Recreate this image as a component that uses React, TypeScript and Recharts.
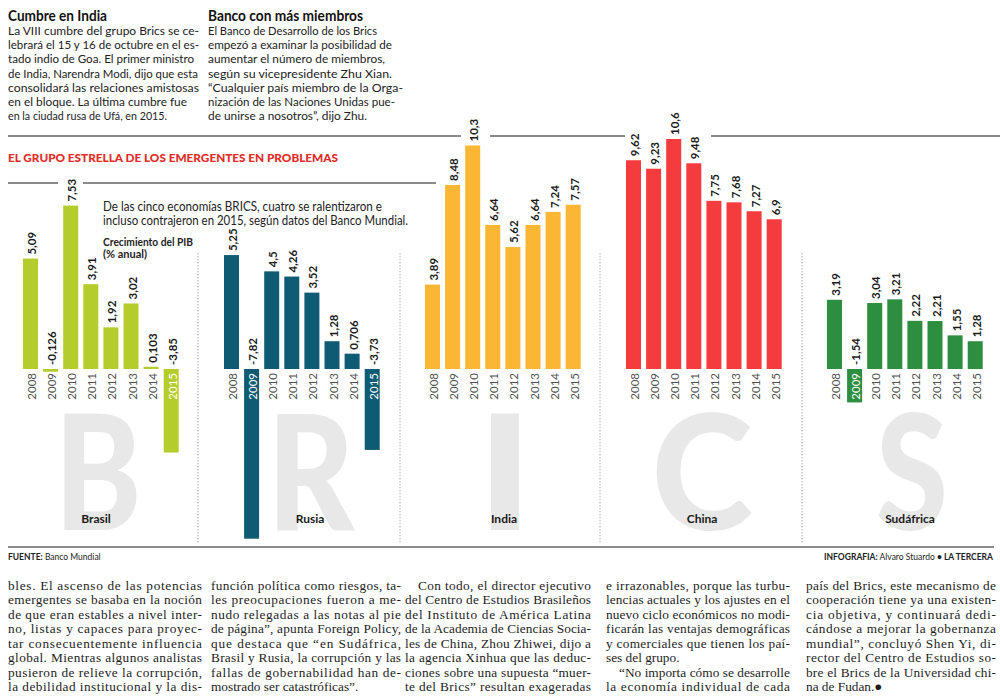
import React from 'react';
import { BarChart, Bar, XAxis, YAxis } from 'recharts';

// ---------- DATA ----------
const years = ['2008', '2009', '2010', '2011', '2012', '2013', '2014', '2015'];
const countries = ['Brasil', 'Rusia', 'India', 'China', 'Sudáfrica'];
const bigLetters = ['B', 'R', 'I', 'C', 'S'];
const brasil = [5.09, -0.126, 7.53, 3.91, 1.92, 3.02, 0.103, -3.85];
const rusia = [5.25, -7.82, 4.5, 4.26, 3.52, 1.28, 0.706, -3.73];
const india = [3.89, 8.48, 10.3, 6.64, 5.62, 6.64, 7.24, 7.57];
const china = [9.62, 9.23, 10.6, 9.48, 7.75, 7.68, 7.27, 6.9];
const sudafrica = [3.19, -1.54, 3.04, 3.21, 2.22, 2.21, 1.55, 1.28];
const series = [brasil, rusia, india, china, sudafrica];

const colors = ['#b5cd2c', '#0f5b73', '#fbb733', '#f43b3d', '#2c8e3e'];

const headerLeftTitle = 'Cumbre en India';
const headerLeft = [
  'La VIII cumbre del grupo Brics se ce-',
  'lebrará el 15 y 16 de octubre en el es-',
  'tado indio de Goa. El primer ministro',
  'de India, Narendra Modi, dijo que esta',
  'consolidará las relaciones amistosas',
  'en el bloque. La última cumbre fue',
  'en la ciudad rusa de Ufá, en 2015.',
];
const headerLeftW = [191, 191, 186, 190, 191, 179, 159];
const headerRightTitle = 'Banco con más miembros';
const headerRight = [
  'El Banco de Desarrollo de los Brics',
  'empezó a examinar la posibilidad de',
  'aumentar el número de miembros,',
  'según su vicepresidente Zhu Xian.',
  '\u201cCualquier país miembro de la Orga-',
  'nización de las Naciones Unidas pue-',
  'de unirse a nosotros\u201d, dijo Zhu.',
];
const headerRightW = [169, 184, 177, 184, 195, 187, 159];

const chartTitle = 'EL GRUPO ESTRELLA DE LOS EMERGENTES EN PROBLEMAS';
const descLines = [
  'De las cinco economías BRICS, cuatro se ralentizaron e',
  'incluso contrajeron en 2015, según datos del Banco Mundial.',
];
const unitLines = ['Crecimiento del PIB', '(% anual)'];

// body columns: [text, mode] mode: 'j' justified, 'n' natural, 'i' indented justified
const col1: [string, string][] = [
  ['bles. El ascenso de las potencias', 'j'],
  ['emergentes se basaba en la noción', 'j'],
  ['de que eran estables a nivel inter-', 'j'],
  ['no, listas y capaces para proyec-', 'j'],
  ['tar consecuentemente influencia', 'j'],
  ['global. Mientras algunos analistas', 'j'],
  ['pusieron de relieve la corrupción,', 'j'],
  ['la debilidad institucional y la dis-', 'j'],
];
const col2: [string, string][] = [
  ['función política como riesgos, ta-', 'j'],
  ['les preocupaciones fueron a me-', 'j'],
  ['nudo relegadas a las notas al pie', 'j'],
  ['de página\u201d, apunta Foreign Policy,', 'j'],
  ['que destaca que \u201cen Sudáfrica,', 'j'],
  ['Brasil y Rusia, la corrupción y las', 'j'],
  ['fallas de gobernabilidad han de-', 'j'],
  ['mostrado ser catastróficas\u201d.', 'n'],
];
const col3: [string, string][] = [
  ['Con todo, el director ejecutivo', 'i'],
  ['del Centro de Estudios Brasileños', 'j'],
  ['del Instituto de América Latina', 'j'],
  ['de la Academia de Ciencias Socia-', 'j'],
  ['les de China, Zhou Zhiwei, dijo a', 'j'],
  ['la agencia Xinhua que las deduc-', 'j'],
  ['ciones sobre una supuesta \u201cmuer-', 'j'],
  ['te del Brics\u201d resultan exageradas', 'j'],
];
const col4: [string, string][] = [
  ['e irrazonables, porque las turbu-', 'j'],
  ['lencias actuales y los ajustes en el', 'j'],
  ['nuevo ciclo económicos no modi-', 'j'],
  ['ficarán las ventajas demográficas', 'j'],
  ['y comerciales que tienen los paí-', 'j'],
  ['ses del grupo.', 'n'],
  ['\u201cNo importa cómo se desarrolle', 'i'],
  ['la economía individual de cada', 'j'],
];
const col5: [string, string][] = [
  ['país del Brics, este mecanismo de', 'j'],
  ['cooperación tiene ya una existen-', 'j'],
  ['cia objetiva, y continuará dedi-', 'j'],
  ['cándose a mejorar la gobernanza', 'j'],
  ['mundial\u201d, concluyó Shen Yi, di-', 'j'],
  ['rector del Centro de Estudios so-', 'j'],
  ['bre el Brics de la Universidad chi-', 'j'],
  ['na de Fudan.\u25cf', 'n'],
];
const bodyCols = [col1, col2, col3, col4, col5];
const bodyColX = [8, 211, 405, 606, 806];
const bodyColW = [194, 190, 186, 184, 190];

// ---------- rows for the chart ----------
type Row = { key: string; year: string; v: number | null; g: number };
const rows: Row[] = [];
series.forEach((vals, g) => {
  vals.forEach((v, i) => rows.push({ key: `${countries[g]}-${years[i]}`, year: years[i], v, g }));
  if (g < series.length - 1) {
    rows.push({ key: `gap-${g}-a`, year: '', v: null, g });
    rows.push({ key: `gap-${g}-b`, year: '', v: null, g });
  }
});

const SANS = 'Lato, "Open Sans", "DejaVu Sans", sans-serif';
const SERIF = '"Liberation Serif", "DejaVu Serif", serif';
const fmt = (v: number) => String(v).replace('.', ',');

const BarShape = (props: any) => {
  const { x, y, width, height, payload } = props;
  if (!payload || payload.v == null) return <g />;
  const v = payload.v as number;
  const ya = y;
  const yb = y + height;
  const top = Math.min(ya, yb);
  const bot = Math.max(ya, yb);
  const zero = v >= 0 ? bot : top;
  const cx = x + width / 2;
  const deep = v < 0 && bot - top > 28;
  return (
    <g>
      <rect x={x} y={top} width={width} height={Math.max(bot - top, 0.8)} fill={colors[payload.g]} />
      <text
        transform={`translate(${cx + 1},${(v >= 0 ? top : zero) - 4}) rotate(-90)`}
        textAnchor="start"
        dominantBaseline="central"
        fontFamily={SANS}
        fontSize={11.5}
        fontWeight={700}
        fill="#1b1b1b"
      >
        {fmt(v)}
      </text>
      <text
        transform={`translate(${cx + 1},${zero + 4}) rotate(-90)`}
        textAnchor="end"
        dominantBaseline="central"
        fontFamily={SANS}
        fontSize={11.5}
        fill={deep ? '#ffffff' : '#505050'}
      >
        {payload.year}
      </text>
    </g>
  );
};

const letterX = [98, 311, 505, 702, 912];
const letterScale = [0.82, 0.84, 1.15, 0.96, 0.82];
const nameX = [96, 310, 504, 702, 910];
const sepX = [198, 400, 600, 802];

export default function App() {
  return (
    <div style={{ position: 'absolute', left: 0, top: 0, width: 1000, height: 700, background: '#fff', overflow: 'hidden' }}>
      <svg width={1000} height={700} style={{ position: 'absolute', left: 0, top: 0 }}>
        {/* header */}
        <text x={8} y={20.5} fontFamily={SANS} fontSize={15} fontWeight={700} fill="#111" textLength={99} lengthAdjust="spacingAndGlyphs">
          {headerLeftTitle}
        </text>
        {headerLeft.map((t, i) => (
          <text key={'hl' + i} x={8} y={35 + i * 14.2} fontFamily={SANS} fontSize={12.3} fill="#222" textLength={headerLeftW[i]} lengthAdjust="spacingAndGlyphs">
            {t}
          </text>
        ))}
        <text x={208} y={20.5} fontFamily={SANS} fontSize={15} fontWeight={700} fill="#111" textLength={155} lengthAdjust="spacingAndGlyphs">
          {headerRightTitle}
        </text>
        {headerRight.map((t, i) => (
          <text key={'hr' + i} x={208} y={35 + i * 14.2} fontFamily={SANS} fontSize={12.3} fill="#222" textLength={headerRightW[i]} lengthAdjust="spacingAndGlyphs">
            {t}
          </text>
        ))}

        {/* rules */}
        <g stroke="#8a8a8a" strokeWidth={2}>
          <line x1={8} x2={461} y1={136} y2={136} />
          <line x1={490} x2={625} y1={136} y2={136} />
          <line x1={711} x2={1000} y1={136} y2={136} />
          <line x1={8} x2={58} y1={183} y2={183} />
          <line x1={83} x2={436} y1={183} y2={183} />
          <line x1={8} x2={994} y1={547} y2={547} />
        </g>

        <text x={8} y={161.5} fontFamily={SANS} fontSize={12} fontWeight={900} fill="#e32b27" textLength={330} lengthAdjust="spacingAndGlyphs">
          {chartTitle}
        </text>
        <text x={103} y={211} fontFamily={SANS} fontSize={13} fill="#222" textLength={279} lengthAdjust="spacingAndGlyphs">
          {descLines[0]}
        </text>
        <text x={103} y={225} fontFamily={SANS} fontSize={13} fill="#222" textLength={305} lengthAdjust="spacingAndGlyphs">
          {descLines[1]}
        </text>
        <text x={103} y={246} fontFamily={SANS} fontSize={11} fontWeight={700} fill="#222" textLength={90} lengthAdjust="spacingAndGlyphs">
          {unitLines[0]}
        </text>
        <text x={103} y={258} fontFamily={SANS} fontSize={11} fontWeight={700} fill="#222" textLength={44} lengthAdjust="spacingAndGlyphs">
          {unitLines[1]}
        </text>

        {/* separators */}
        {sepX.map((sx) => (
          <line key={'s' + sx} x1={sx} x2={sx} y1={253} y2={543} stroke="#b0b0b0" strokeWidth={1} strokeDasharray="1.5 1.5" />
        ))}

        {/* big letters */}
        {bigLetters.map((l, i) => (
          <text
            key={'L' + l}
            x={0}
            y={0}
            transform={`translate(${letterX[i]},530) scale(${letterScale[i]},1)`}
            textAnchor="middle"
            fontFamily={SANS}
            fontSize={160}
            fontWeight={900}
            fill="#e8e8e8"
          >
            {l}
          </text>
        ))}
        {countries.map((c, i) => (
          <text key={'N' + c} x={nameX[i]} y={523} textAnchor="middle" fontFamily={SANS} fontSize={12} fontWeight={700} fill="#1a1a1a">
            {c}
          </text>
        ))}

        {/* footer */}
        <text x={8} y={560} fontFamily={SANS} fontSize={8.5} fill="#222">
          <tspan fontWeight={700}>FUENTE:</tspan>
          <tspan> Banco Mundial</tspan>
        </text>
        <text x={993} y={560} textAnchor="end" fontFamily={SANS} fontSize={8.5} fill="#222">
          <tspan fontWeight={700}>INFOGRAFIA:</tspan>
          <tspan> Alvaro Stuardo </tspan>
          <tspan fontWeight={700}>• LA TERCERA</tspan>
        </text>

        {/* body text */}
        {bodyCols.map((col, ci) =>
          col.map(([t, mode], li) => {
            const indent = mode === 'i' ? 13 : 0;
            const x = bodyColX[ci] + indent;
            const w = bodyColW[ci] - indent;
            const extra = mode === 'n' ? {} : { textLength: w, lengthAdjust: 'spacing' };
            return (
              <text key={`b${ci}-${li}`} x={x} y={589.5 + li * 14.57} fontFamily={SERIF} fontSize={13.3} fill="#1d1d1d" {...(extra as any)}>
                {t}
              </text>
            );
          })
        )}
      </svg>

      <div style={{ position: 'absolute', left: 0, top: 0 }}>
        <BarChart
          width={1000}
          height={700}
          data={rows}
          margin={{ top: 65.2, right: 15.2, bottom: 70.6, left: 20 }}
          barCategoryGap={0}
        >
          <XAxis dataKey="key" type="category" hide />
          <YAxis type="number" domain={[-12, 14]} hide allowDataOverflow />
          <Bar dataKey="v" isAnimationActive={false} barSize={15} shape={BarShape} />
        </BarChart>
      </div>
    </div>
  );
}
